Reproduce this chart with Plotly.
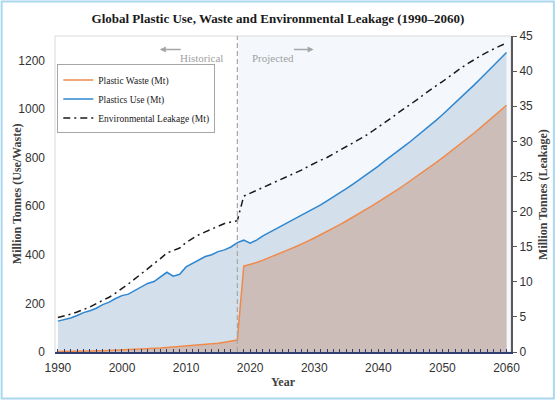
import plotly.graph_objects as go

# Years 1990-2060 (annual)
years = list(range(1990, 2061))

# Plastics use (Mt)
plastics_use = [
    127, 133, 140, 150, 162, 170, 180, 195, 205, 220,
    232, 238, 252, 265, 282, 290, 308, 328, 312, 320,
    350, 365, 378, 393, 400, 413, 420, 432, 450, 460,
    448, 460, 478, 492, 506, 520, 532, 546, 560, 575,
    590, 605, 622, 638, 656, 672, 690, 708, 727, 746,
    765, 786, 805, 825, 846, 866, 887, 909, 931, 953,
    976, 1000, 1025, 1050, 1075, 1100, 1126, 1152, 1178, 1205,
    1232,
]

# Plastic waste (Mt)
plastic_waste = [
    2, 2, 3, 3, 4, 4, 5, 5, 6, 7,
    8, 9, 10, 11, 12, 14, 16, 18, 20, 22,
    24, 26, 28, 30, 32, 36, 40, 44, 49, 353,
    360, 368, 378, 388, 398, 410, 421, 432, 443, 456,
    469, 482, 496, 510, 524, 539, 554, 569, 585, 601,
    618, 634, 651, 668, 686, 704, 722, 741, 760, 779,
    799, 819, 839, 860, 881, 902, 924, 946, 968, 991,
    1015,
]

# Environmental leakage (Mt, right axis)
leakage = [
    4.9, 5.1, 5.4, 5.7, 6.0, 6.4, 6.9, 7.3, 7.8, 8.4,
    9.0, 9.7, 10.4, 11.1, 11.8, 12.5, 13.3, 14.1, 14.4, 14.8,
    15.6, 16.2, 16.7, 17.1, 17.5, 17.9, 18.3, 18.5, 18.7, 22.2,
    22.6, 23.0, 23.5, 23.9, 24.3, 24.7, 25.1, 25.5, 25.9, 26.4,
    26.9, 27.3, 27.7, 28.2, 28.7, 29.2, 29.7, 30.2, 30.8, 31.4,
    32.0, 32.6, 33.3, 34.0, 34.6, 35.2, 35.9, 36.6, 37.3, 37.9,
    38.5, 39.2, 39.8, 40.5, 41.1, 41.7, 42.2, 42.7, 43.2, 43.6,
    44.0,
]

split_year = 2018

serif = "Liberation Serif"
sans = "Liberation Sans"
use_color = "#2e86d1"
waste_color = "#f08a4b"

fig = go.Figure()

# filled areas (no legend)
fig.add_trace(go.Scatter(
    x=years, y=plastics_use, mode="none", fill="tozeroy",
    fillcolor="#d3dfea", showlegend=False, hoverinfo="skip",
))
fig.add_trace(go.Scatter(
    x=years, y=plastic_waste, mode="none", fill="tozeroy",
    fillcolor="#cdbdb8", showlegend=False, hoverinfo="skip",
))

# lines
fig.add_trace(go.Scatter(
    x=years, y=plastic_waste, name="Plastic Waste (Mt)",
    mode="lines", line=dict(color=waste_color, width=1.5),
))
fig.add_trace(go.Scatter(
    x=years, y=plastics_use, name="Plastics Use (Mt)",
    mode="lines", line=dict(color=use_color, width=1.5),
))
fig.add_trace(go.Scatter(
    x=years, y=leakage, name="Environmental Leakage (Mt)",
    mode="lines", line=dict(color="#1a1a1a", width=1.5, dash="7px,4px,2px,4px"),
    yaxis="y2",
))

shapes = [
    # projected background
    dict(type="rect", xref="x", yref="paper", x0=split_year, x1=2060.7, y0=0, y1=1,
         fillcolor="#f4f8fc", line=dict(width=0), layer="below"),
    # plot border (light gray)
    dict(type="rect", xref="paper", yref="paper", x0=0, x1=1, y0=0, y1=1,
         line=dict(color="#d9d9d9", width=1), layer="below"),
    # split line
    dict(type="line", xref="x", yref="paper", x0=split_year, x1=split_year, y0=0, y1=1,
         line=dict(color="#a6a6a6", width=1.2, dash="5px,3px")),
    # outer frame
    dict(type="rect", xref="paper", yref="paper", x0=-0.117, x1=1.094, y0=-0.147, y1=1.109,
         line=dict(color="#a9d8f0", width=2)),
]

annotations = [
    dict(text="Historical", x=2016, y=0.955, xref="x", yref="paper", xanchor="right",
         showarrow=False, font=dict(family=serif, size=11, color="#a0a0a0")),
    dict(text="", x=2005.9, y=0.957, ax=2009.4, ay=0, xref="x", yref="paper",
         axref="x", ayref="pixel", showarrow=True, arrowhead=2, arrowsize=0.8,
         arrowwidth=1.5, arrowcolor="#a6a6a6"),
    dict(text="Projected", x=2020, y=0.955, xref="x", yref="paper", xanchor="left",
         showarrow=False, font=dict(family=serif, size=11, color="#a0a0a0")),
    dict(text="", x=2029.9, y=0.957, ax=2026.6, ay=0, xref="x", yref="paper",
         axref="x", ayref="pixel", showarrow=True, arrowhead=2, arrowsize=0.8,
         arrowwidth=1.5, arrowcolor="#a6a6a6"),
    # axis titles
    dict(text="<b>Million Tonnes (Use/Waste)</b>", x=-0.083, y=0.5, xref="paper", yref="paper",
         xanchor="center", yanchor="middle", textangle=-90, showarrow=False,
         font=dict(family=serif, size=12, color="#404040")),
    dict(text="<b>Million Tonnes (Leakage)</b>", x=1.07, y=0.5, xref="paper", yref="paper",
         xanchor="center", yanchor="middle", textangle=-90, showarrow=False,
         font=dict(family=serif, size=12, color="#404040")),
    dict(text="<b>Year</b>", x=0.5, y=-0.095, xref="paper", yref="paper",
         xanchor="center", yanchor="middle", showarrow=False,
         font=dict(family=serif, size=12, color="#404040")),
]

fig.update_layout(
    width=556, height=401,
    margin=dict(l=55, r=45, t=36, b=49, autoexpand=False),
    paper_bgcolor="white", plot_bgcolor="white",
    title=dict(text="<b>Global Plastic Use, Waste and Environmental Leakage (1990–2060)</b>",
               x=0.5, xanchor="center", y=0.955, yref="container", yanchor="middle",
               font=dict(family=serif, size=13, color="#1a1a1a")),
    showlegend=True,
    legend=dict(x=0.005, y=0.91, xanchor="left", yanchor="top",
                bgcolor="white", bordercolor="#a6a6a6", borderwidth=1,
                font=dict(family=serif, size=9.5, color="#1a1a1a"),
                tracegroupgap=0),
    xaxis=dict(range=[1989.55, 2060.7], dtick=10, tick0=1990, automargin=False,
               showgrid=False, zeroline=False,
               showline=True, linecolor="#2f3e6e", linewidth=2,
               ticks="inside", ticklen=3, tickcolor="#2f3e6e",
               minor=dict(dtick=1, ticks="inside", ticklen=3, tickcolor="#2f3e6e", showgrid=False),
               ticklabelstandoff=4,
               tickfont=dict(family=sans, size=12, color="#333")),
    yaxis=dict(range=[0, 1300], dtick=200, showgrid=False, zeroline=False, automargin=False,
               showline=False, ticks="", ticklabelstandoff=9,
               tickfont=dict(family=sans, size=12, color="#333")),
    yaxis2=dict(range=[0, 45], dtick=5, overlaying="y", side="right", automargin=False,
                showgrid=False, zeroline=False,
                showline=True, linecolor="#595959", linewidth=2,
                ticks="outside", ticklen=4, tickcolor="#595959",
                tickfont=dict(family=sans, size=12, color="#333")),
    shapes=shapes,
    annotations=annotations,
)

fig.write_html("out.html", config={"displayModeBar": False},
               post_script="document.body.style.margin='0';")
